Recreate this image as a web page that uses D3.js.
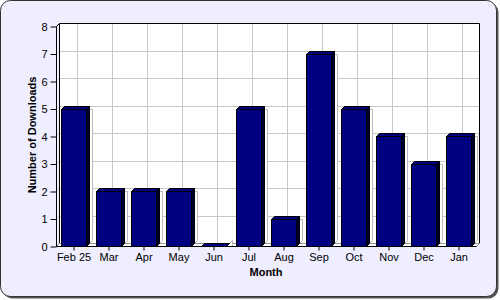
<!DOCTYPE html>
<html>
<head>
<meta charset="utf-8">
<script src="https://d3js.org/d3.v7.min.js"></script>
<style>
	html, body {margin: 0; padding: 0; overflow: hidden; background: #fff}
	text {font-family: "Liberation Sans", Arial, sans-serif; fill: #000}
	.tick text {font-size: 11px}
	.title {font-size: 11px; font-weight: bold}
</style>
</head>
<body>
<script>
	var months = ["Feb 25", "Mar", "Apr", "May", "Jun", "Jul", "Aug", "Sep", "Oct", "Nov", "Dec", "Jan"];
	var downloads = [5, 2, 2, 2, 0, 5, 1, 7, 5, 4, 3, 4];
	var yTicks = [0, 1, 2, 3, 4, 5, 6, 7, 8];

	var width = 500, height = 300;
	var depth = 3;
	var plot = {left: 56, right: 476, top: 26, bottom: 246};

	var svg = d3.select("body").append("svg")
		.attr("width", width)
		.attr("height", height);

	// frame with shadow
	svg.append("rect")
		.attr("x", 2.5).attr("y", 2.5)
		.attr("width", 496).attr("height", 296)
		.attr("rx", 10)
		.attr("fill", "#555");
	svg.append("rect")
		.attr("x", 0.5).attr("y", 0.5)
		.attr("width", 496).attr("height", 296)
		.attr("rx", 10)
		.attr("fill", "#eeeeff")
		.attr("stroke", "#333");

	var x = d3.scaleBand()
		.domain(months)
		.range([plot.left, plot.right])
		.paddingInner(10 / 35)
		.paddingOuter(5 / 35);

	var y = d3.scaleLinear()
		.domain([0, 8])
		.range([plot.bottom, plot.top]);

	var g = svg.append("g");

	// back wall
	g.append("rect")
		.attr("x", plot.left + depth + 0.5)
		.attr("y", plot.top - depth + 0.5)
		.attr("width", plot.right - plot.left)
		.attr("height", plot.bottom - plot.top)
		.attr("fill", "#fff");

	// grid
	g.selectAll(".hgrid").data(yTicks).enter().append("line")
		.attr("x1", plot.left + depth).attr("x2", plot.right + depth)
		.attr("y1", function(d){ return Math.round(y(d)) - depth + 0.5; })
		.attr("y2", function(d){ return Math.round(y(d)) - depth + 0.5; })
		.attr("stroke", "#c8c8c8");
	g.selectAll(".hgridl").data(yTicks).enter().append("line")
		.attr("x1", plot.left).attr("x2", plot.left + depth)
		.attr("y1", function(d){ return Math.round(y(d)) + 0.5; })
		.attr("y2", function(d){ return Math.round(y(d)) - depth + 0.5; })
		.attr("stroke", "#c8c8c8");
	g.selectAll(".vgrid").data(months).enter().append("line")
		.attr("x1", function(d){ return Math.round(x(d) + x.bandwidth() / 2) + depth + 0.5; })
		.attr("x2", function(d){ return Math.round(x(d) + x.bandwidth() / 2) + depth + 0.5; })
		.attr("y1", plot.top - depth).attr("y2", plot.bottom - depth)
		.attr("stroke", "#c8c8c8");

	// wall outlines
	g.append("path")
		.attr("d", "M" + (plot.left + depth + 0.5) + "," + (plot.bottom - depth + 0.5) +
			"V" + (plot.top - depth + 0.5) + "H" + (plot.right + depth + 0.5) +
			"V" + (plot.bottom - depth + 0.5))
		.attr("fill", "none")
		.attr("stroke", "#000");
	g.append("path")
		.attr("d", "M" + (plot.left + 0.5) + "," + (plot.top + 0.5) +
			"L" + (plot.left + depth + 0.5) + "," + (plot.top - depth + 0.5))
		.attr("stroke", "#000");

	// floor
	g.append("path")
		.attr("d", "M" + (plot.left + 0.5) + "," + (plot.bottom + 0.5) +
			"L" + (plot.left + depth + 0.5) + "," + (plot.bottom - depth + 0.5) +
			"H" + (plot.right + depth + 0.5) +
			"L" + (plot.right + 0.5) + "," + (plot.bottom + 0.5) + "Z")
		.attr("fill", "#fff")
		.attr("stroke", "#999");

	// bars
	var bars = g.selectAll(".bar").data(downloads).enter().append("g").attr("class", "bar");

	bars.each(function(v, i){
		var b = d3.select(this);
		var x0 = Math.round(x(months[i])) + 0.5;
		var w = Math.round(x.bandwidth());
		var yt = Math.round(y(v)) + 0.5;
		var yb = plot.bottom + 0.5;

		// light strip right of the bar
		b.append("path")
			.attr("d", "M" + (x0 + w + depth) + "," + (yt - depth + 3) +
				"H" + (x0 + w + depth + 3) + "V" + (yb - depth - 3) +
				"L" + (x0 + w + depth) + "," + (yb - depth))
			.attr("fill", "#fff")
			.attr("stroke", "#bbb");

		b.append("path")
			.attr("d", "M" + (x0 + w) + "," + yt + "L" + (x0 + w + depth) + "," + (yt - depth) +
				"V" + (yb - depth) + "L" + (x0 + w) + "," + yb + "Z")
			.attr("fill", "#000030")
			.attr("stroke", "#000");
		b.append("path")
			.attr("d", "M" + x0 + "," + yt + "L" + (x0 + depth) + "," + (yt - depth) +
				"H" + (x0 + w + depth) + "L" + (x0 + w) + "," + yt + "Z")
			.attr("fill", "#000080")
			.attr("stroke", "#000");
		b.append("rect")
			.attr("x", x0).attr("y", yt)
			.attr("width", w).attr("height", yb - yt)
			.attr("fill", "#000080")
			.attr("stroke", "#000");
	});

	// axes
	var yAxis = d3.axisLeft(y).tickValues(yTicks).tickSize(6).tickPadding(3).tickFormat(d3.format("d"));
	g.append("g")
		.attr("transform", "translate(" + (plot.left + 0.5) + ",0.5)")
		.call(yAxis)
		.call(function(a){ a.select(".domain").attr("d", "M0," + plot.top + "V" + plot.bottom); });

	var xAxis = d3.axisBottom(x).tickSize(4).tickPadding(3);
	g.append("g")
		.attr("transform", "translate(0.5," + (plot.bottom + 0.5) + ")")
		.call(xAxis)
		.call(function(a){ a.select(".domain").attr("d", "M" + plot.left + ",0H" + plot.right); });

	g.selectAll(".tick text").attr("font-family", null).attr("font-size", null);

	// titles
	svg.append("text")
		.attr("class", "title")
		.attr("transform", "translate(36,135) rotate(-90)")
		.attr("text-anchor", "middle")
		.text("Number of Downloads");

	svg.append("text")
		.attr("class", "title")
		.attr("x", (plot.left + plot.right) / 2)
		.attr("y", 276)
		.attr("text-anchor", "middle")
		.text("Month");
</script>
</body>
</html>
